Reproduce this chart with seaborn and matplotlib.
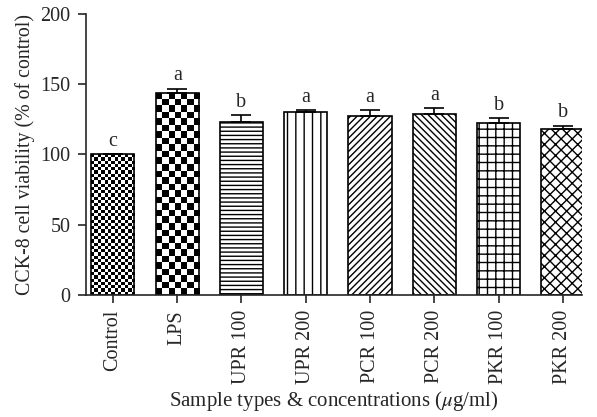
import numpy as np
import pandas as pd
import matplotlib
matplotlib.use('Agg')
import matplotlib.pyplot as plt
import seaborn as sns

# Data
groups = ['Control', 'LPS', 'UPR 100', 'UPR 200', 'PCR 100', 'PCR 200', 'PKR 100', 'PKR 200']
viability = [100.0, 144.0, 123.0, 130.0, 127.5, 129.0, 122.5, 118.5]
sem = [0.0, 3.0, 5.0, 1.5, 4.0, 4.0, 3.5, 2.0]
letters = ['c', 'a', 'b', 'a', 'a', 'a', 'b', 'b']

# hatch per bar; None = checkerboard drawn as an image
hatches = [None, None, '----', '||', '/////', '\\\\\\\\\\', '++', 'xxx']
checker_px = {0: 3.3, 1: 6.5}

df = pd.DataFrame({'group': groups, 'value': viability})

sns.set_style('ticks')
plt.rcParams['font.family'] = ['Liberation Serif', 'DejaVu Serif']
plt.rcParams['mathtext.fontset'] = 'stix'
plt.rcParams['hatch.linewidth'] = 1.0

fig = plt.figure(figsize=(5.97, 4.17), dpi=100)
ax = fig.add_axes([0.144, 0.293, 0.831, 0.673])

sns.barplot(data=df, x='group', y='value', color='white', edgecolor='black',
            linewidth=1.2, width=0.67, ax=ax, saturation=1)

err = np.array(sem)
ax.errorbar(np.arange(len(groups)), viability, yerr=[np.zeros_like(err), err],
            fmt='none', ecolor='black', elinewidth=1.2, capsize=7, capthick=1.2)

ax.set_ylim(0, 200)
ax.set_xlim(-0.42, 7.3)
fig.canvas.draw()

for i, p in enumerate(ax.patches[:len(groups)]):
    h = hatches[i]
    if h is not None:
        p.set_hatch(h)
    else:
        x0, y0 = p.get_x(), p.get_y()
        w, hh = p.get_width(), p.get_height()
        bb = p.get_window_extent()
        cell = checker_px[i]
        nx = max(1, int(round(bb.width / cell)))
        ny = max(1, int(round(bb.height / cell)))
        img = (np.add.outer(np.arange(ny), np.arange(nx)) % 2).astype(float)
        im = ax.imshow(img, cmap='gray', extent=[x0, x0 + w, y0, y0 + hh],
                       interpolation='nearest', aspect='auto', zorder=p.get_zorder() + 0.1,
                       vmin=0, vmax=1)
        im.set_clip_path(p)
        p.set_zorder(p.get_zorder() + 0.2)
        p.set_facecolor('none')

ax.set_xlim(-0.42, 7.3)
ax.set_ylim(0, 200)

for i, (v, e, l) in enumerate(zip(viability, sem, letters)):
    ax.text(i, v + e + 2.5, l, ha='center', va='bottom', fontsize=14.5)

ax.set_yticks([0, 50, 100, 150, 200])
ax.tick_params(axis='both', labelsize=14.5, length=6, width=1.2, direction='out', pad=5)
ax.tick_params(axis='x', rotation=90)
ax.set_xlabel('Sample types & concentrations ($\\mu$g/ml)', fontsize=15, labelpad=3)
ax.set_ylabel('CCK-8 cell viability (% of control)', fontsize=14.3, labelpad=4)
for s in ['left', 'bottom']:
    ax.spines[s].set_linewidth(1.2)
sns.despine(ax=ax)

fig.savefig('out.png', dpi=100)
